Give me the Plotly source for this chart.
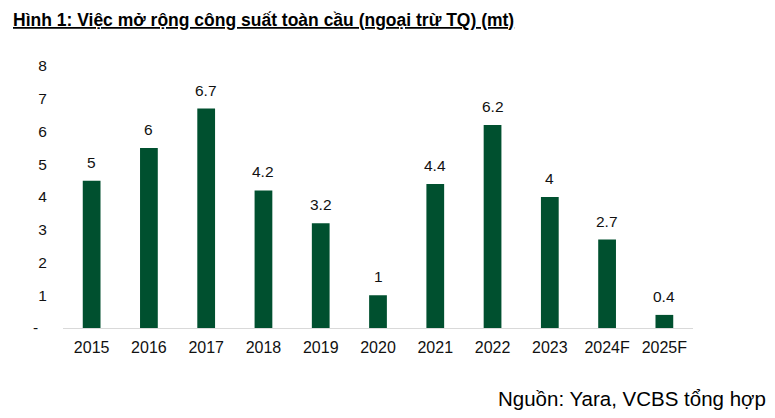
import plotly.graph_objects as go

categories = ["2015", "2016", "2017", "2018", "2019", "2020", "2021", "2022", "2023", "2024F", "2025F"]
values = [4.5, 5.5, 6.7, 4.2, 3.2, 1.0, 4.4, 6.2, 4.0, 2.7, 0.4]
labels = ["5", "6", "6.7", "4.2", "3.2", "1", "4.4", "6.2", "4", "2.7", "0.4"]
ytick_vals = [0, 1, 2, 3, 4, 5, 6, 7, 8]
ytick_text = ["-\u00a0\u00a0", "1", "2", "3", "4", "5", "6", "7", "8"]

FONT = "Arial, Liberation Sans, sans-serif"
GREEN = "#00502F"
TXT = "#111111"

fig = go.Figure()
fig.add_trace(go.Bar(x=categories, y=values, marker=dict(color=GREEN, line=dict(width=0)),
                     hoverinfo="skip"))

# category index positions (numeric-looking strings would be read as indices)
for i, (v, t) in enumerate(zip(values, labels)):
    fig.add_annotation(x=i, y=v, text=t, showarrow=False, yanchor="bottom", yshift=8,
                       font=dict(family=FONT, size=15.5, color=TXT))

fig.add_annotation(xref="paper", yref="paper", x=0, xshift=-52, y=1.0, yshift=58, xanchor="left", yanchor="top",
                   text="<b><u>Hình 1: Việc mở rộng công suất toàn cầu (ngoại trừ TQ) (mt)</u></b>",
                   showarrow=False, font=dict(family=FONT, size=17.5, color="#000000"))
fig.add_annotation(xref="paper", yref="paper", x=1.0, xshift=75, y=0, yshift=-57, xanchor="right", yanchor="top",
                   text="Nguồn: Yara, VCBS tổng hợp",
                   showarrow=False, font=dict(family=FONT, size=20.5, color="#000000"))

# page body has an 8px default margin: shrink the figure so it fits the 775x418 window
fig.update_layout(
    width=767, height=410,
    margin=dict(l=55, r=82, t=58, b=90),
    paper_bgcolor="white", plot_bgcolor="white",
    bargap=0.69, showlegend=False,
    font=dict(family=FONT, size=15.5, color=TXT),
)
fig.update_xaxes(type="category", categoryorder="array", categoryarray=categories,
                 range=[-0.5, len(categories) - 0.5],
                 showline=True, linecolor="#D9D9D9", linewidth=1, showgrid=False,
                 ticks="outside", ticklen=5, tickcolor="rgba(0,0,0,0)",
                 tickfont=dict(family=FONT, size=16, color=TXT))
fig.update_yaxes(range=[0, 8], tickvals=ytick_vals, ticktext=ytick_text, showgrid=False,
                 zeroline=False, showline=False, ticks="outside", ticklen=12,
                 tickcolor="rgba(0,0,0,0)",
                 tickfont=dict(family=FONT, size=15.5, color=TXT))

fig.write_html("out.html")
